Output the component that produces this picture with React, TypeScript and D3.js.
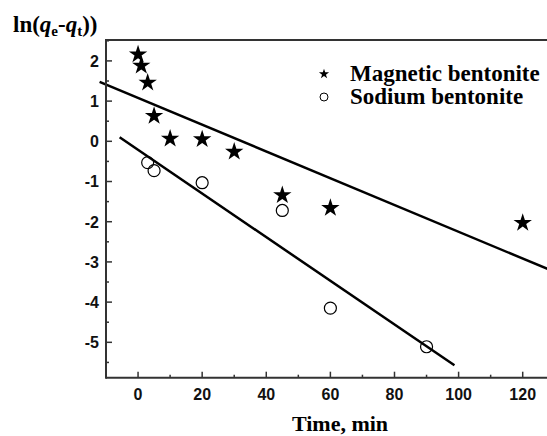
import React from "react";
import * as d3 from "d3";

const magneticTime = [0, 1, 3, 5, 10, 20, 30, 45, 60, 120];
const magneticValue = [2.16, 1.88, 1.46, 0.63, 0.065, 0.05, -0.26, -1.34, -1.66, -2.03];
const sodiumTime = [3, 5, 20, 45, 60, 90];
const sodiumValue = [-0.53, -0.73, -1.03, -1.72, -4.15, -5.11];
// linear fits: [slope, intercept, tStart, tEnd]
const magneticFit = [-0.0333, 1.08, -12, 140];
const sodiumFit = [-0.0543, -0.212, -5.75, 98.7];
const xTicks = [0, 20, 40, 60, 80, 100, 120];
const yTicks = [-5, -4, -3, -2, -1, 0, 1, 2];
const legendLabels = ["Magnetic bentonite", "Sodium bentonite"];

const W = 547, H = 436;
const L = 106, R = 574, T = 40, B = 377.7;

export default function App() {
  const x = d3.scaleLinear().domain([-10, 136]).range([L, R]);
  const y = d3.scaleLinear().domain([-5.88, 2.52]).range([B, T]);
  const star = d3.symbol().type(d3.symbolStar).size(105)();
  const starSmall = d3.symbol().type(d3.symbolStar).size(32)();
  const xMinor = d3.range(-10, 136, 10).filter((v) => v % 20 !== 0);
  const yMinor = d3.range(-5.5, 2.6, 1);
  const fitPath = (f: number[]) =>
    d3.line<number>().x((t) => x(t)).y((t) => y(f[0] * t + f[1]))([f[2], f[3]]);
  const axisColor = "#333";
  const tickFont = { fontFamily: "'Liberation Sans', Arial, sans-serif", fontWeight: 700, fontSize: 16 };
  const serif = { fontFamily: "'Liberation Serif', 'Times New Roman', serif", fontWeight: 700 };
  return (
    <svg width={W} height={H} style={{ position: "absolute", left: 0, top: 0, background: "#fff" }}>
      {/* fit lines */}
      <path d={fitPath(magneticFit) || ""} stroke="#000" strokeWidth={2.5} fill="none" />
      <path d={fitPath(sodiumFit) || ""} stroke="#000" strokeWidth={2.5} fill="none" />
      {/* frame */}
      <line x1={L} x2={R} y1={T} y2={T} stroke={axisColor} strokeWidth={2} />
      <line x1={L} x2={R} y1={B} y2={B} stroke={axisColor} strokeWidth={2} />
      <line x1={L} x2={L} y1={T - 1} y2={B + 1} stroke={axisColor} strokeWidth={2} />
      {xTicks.map((t) => (
        <g key={"xt" + t}>
          <line x1={x(t)} x2={x(t)} y1={B} y2={B - 6} stroke={axisColor} strokeWidth={1.5} />
          <text x={x(t)} y={400} textAnchor="middle" style={tickFont} fill="#111">{t}</text>
        </g>
      ))}
      {xMinor.map((t) => (
        <line key={"xm" + t} x1={x(t)} x2={x(t)} y1={B} y2={B - 3} stroke={axisColor} strokeWidth={1.5} />
      ))}
      {yTicks.map((v) => (
        <g key={"yt" + v}>
          <line x1={L} x2={L + 6} y1={y(v)} y2={y(v)} stroke={axisColor} strokeWidth={1.5} />
          <text x={99} y={y(v) + 5.8} textAnchor="end" style={tickFont} fill="#111">{v}</text>
        </g>
      ))}
      {yMinor.map((v) => (
        <line key={"ym" + v} x1={L} x2={L + 3} y1={y(v)} y2={y(v)} stroke={axisColor} strokeWidth={1.5} />
      ))}
      {/* points */}
      {magneticTime.map((t, i) => (
        <path key={"m" + i} d={star || ""} transform={`translate(${x(t)},${y(magneticValue[i])})`} fill="#000" />
      ))}
      {sodiumTime.map((t, i) => (
        <circle key={"s" + i} cx={x(t)} cy={y(sodiumValue[i])} r={6} fill="none" stroke="#000" strokeWidth={1.2} />
      ))}
      {/* legend */}
      <path d={starSmall || ""} transform="translate(324,74)" fill="#000" />
      <circle cx={324} cy={97} r={4} fill="none" stroke="#000" strokeWidth={1} />
      <text x={350} y={81} style={{ ...serif, fontSize: 23 }}>{legendLabels[0]}</text>
      <text x={350} y={104} style={{ ...serif, fontSize: 23 }}>{legendLabels[1]}</text>
      {/* axis titles */}
      <text x={340} y={431} textAnchor="middle" style={{ ...serif, fontSize: 22 }}>Time, min</text>
      <text x={13} y={32} style={{ ...serif, fontSize: 23 }}>
        ln(<tspan fontStyle="italic">q</tspan>
        <tspan fontSize={15} dy={4}>e</tspan>
        <tspan dy={-4}>-</tspan>
        <tspan fontStyle="italic">q</tspan>
        <tspan fontSize={15} dy={4}>t</tspan>
        <tspan dy={-4}>))</tspan>
      </text>
    </svg>
  );
}
